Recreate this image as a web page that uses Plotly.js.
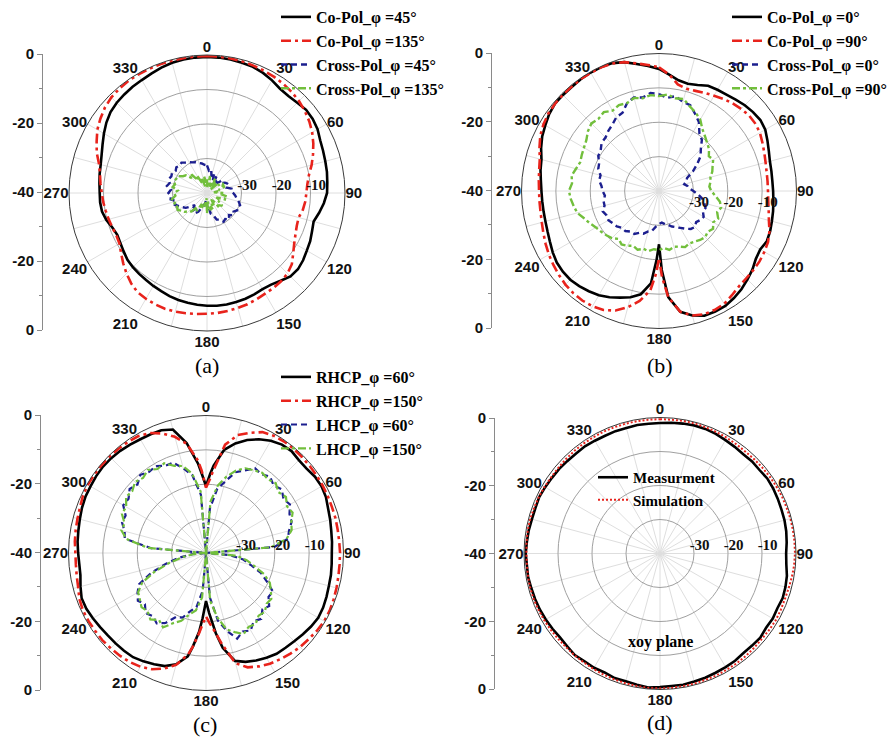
<!DOCTYPE html>
<html>
<head>
<meta charset="utf-8">
<script src="https://cdn.plot.ly/plotly-3.0.1.min.js"></script>
<style>html,body{margin:0;padding:0;background:#fff;}#chart{width:894px;height:739px;}</style>
</head>
<body>
<div id="chart"></div>
<script>
// ---------- angle grids ----------
const theta5 = [0,5,10,15,20,25,30,35,40,45,50,55,60,65,70,75,80,85,90,95,100,105,110,115,120,125,130,135,140,145,150,155,160,165,170,175,180,185,190,195,200,205,210,215,220,225,230,235,240,245,250,255,260,265,270,275,280,285,290,295,300,305,310,315,320,325,330,335,340,345,350,355,360];
const thetaB = [0,5,10,15,20,25,30,35,40,45,50,55,60,65,70,75,80,85,90,95,100,105,110,115,120,125,130,135,140,145,150,155,160,165,170,175,178,180,182,185,190,195,200,205,210,215,220,225,230,235,240,245,250,255,260,265,270,275,280,285,290,295,300,305,310,315,320,325,330,335,340,345,350,355,360];
const thetaC = [0,3,5,10,15,20,25,30,35,40,45,50,55,60,65,70,75,80,85,90,95,100,105,110,115,120,125,130,135,140,145,150,155,160,165,170,173,177,180,183,185,188,190,195,200,205,210,215,220,225,230,235,240,245,250,255,260,265,270,275,280,285,290,295,300,305,310,315,320,325,330,335,340,345,350,355,357,360];

// ---------- (a) ----------
const coPol45a = [-0.6,-0.6,-0.7,-0.9,-1.1,-1.6,-2.3,-3.1,-3.3,-3.0,-2.5,-2.6,-3.0,-3.8,-4.2,-4.5,-4.7,-5.0,-5.2,-6.0,-7.0,-8.0,-7.6,-7.0,-6.6,-6.0,-5.6,-5.8,-6.8,-7.6,-7.8,-7.6,-7.4,-7.3,-7.2,-7.2,-7.3,-7.5,-7.7,-7.9,-8.2,-8.6,-8.9,-9.2,-9.4,-9.6,-9.9,-10.5,-11.0,-11.3,-10.8,-9.8,-9.1,-8.9,-8.9,-8.7,-8.4,-8.1,-7.5,-6.6,-5.5,-4.4,-3.5,-3.0,-2.7,-2.4,-2.2,-1.8,-1.3,-0.9,-0.7,-0.6,-0.6];
const coPol135a = [-0.3,-0.3,-0.4,-0.5,-0.7,-0.9,-1.1,-1.4,-1.8,-2.3,-3.0,-3.8,-4.8,-6.0,-7.3,-8.6,-10.0,-10.8,-11.2,-11.4,-11.8,-12.5,-12.3,-11.7,-10.8,-9.5,-7.9,-7.0,-6.6,-6.4,-6.3,-6.0,-5.7,-5.5,-5.3,-5.1,-5.0,-4.8,-4.6,-4.4,-4.3,-4.4,-4.6,-4.9,-5.8,-7.0,-8.3,-9.6,-10.7,-11.0,-10.8,-10.5,-10.2,-9.8,-9.5,-9.0,-8.5,-7.6,-6.0,-4.7,-3.3,-2.3,-1.4,-0.8,-0.5,-0.3,-0.3,-0.3,-0.3,-0.3,-0.3,-0.3,-0.3];
const crossPol45a = [-32,-33.5,-33,-35,-34,-36,-34.5,-37,-35,-36,-34.5,-35,-34,-33.5,-33.2,-34,-32.8,-33,-32.4,-31.8,-31.3,-30.5,-29.8,-30.3,-29.9,-30.6,-30,-31,-30,-30.8,-30.4,-31.5,-31.8,-33.5,-34,-36.5,-36,-38,-37,-36,-35.3,-34,-33.3,-34.5,-33,-35,-34,-32.5,-31.8,-31,-30.1,-30.8,-29.3,-29.5,-28.8,-29.5,-28.2,-28.8,-28.2,-28.6,-28.3,-28.9,-28.4,-28.8,-28.5,-29.2,-29.7,-30.2,-30.5,-31,-31.3,-31.8,-32];
const crossPol135a = [-36,-38.5,-35,-37.5,-36.5,-38,-35,-37,-36,-38.5,-35.5,-36,-34.5,-35,-34.5,-36.5,-36,-38,-35,-36,-34,-34.5,-34.5,-37,-35.5,-36,-34.2,-35,-35,-38,-36,-37,-35,-36,-34.5,-37.5,-34,-38.5,-36,-37,-35,-36.5,-34,-35,-33,-32.5,-31.5,-31,-30.2,-30.5,-29.8,-30.5,-29.7,-30.8,-30.5,-31.5,-29.9,-30.4,-29.8,-30.2,-30.2,-31.5,-32,-34,-33,-35.5,-34,-37,-35.5,-38,-35,-37,-36];

// ---------- (b) ----------
const coPol0b = [-4.5,-6,-7.3,-7.7,-7.2,-6.2,-6.0,-5.8,-5.3,-4.7,-4.3,-4.0,-4.3,-5.2,-6.0,-6.6,-6.8,-6.9,-6.8,-6.6,-6.3,-6.0,-5.6,-5.4,-6.0,-5.6,-4.5,-3.6,-2.7,-2.0,-1.4,-1.3,-1.4,-2.5,-4.3,-9,-17,-24.5,-20,-13,-9.5,-8,-7.0,-5.9,-5.0,-4.4,-3.9,-3.5,-3.5,-3.7,-4.3,-5.0,-5.5,-5.8,-5.9,-5.9,-5.8,-5.5,-5.0,-4.6,-3.5,-2.5,-1.8,-1.0,-0.5,-0.5,-0.5,-0.3,-0.2,-0.2,-0.4,-1.2,-2.5,-3.5,-4.5];
const coPol90b = [-4.0,-6.0,-8.5,-9.2,-9.0,-8.5,-8.0,-7.3,-6.7,-6.2,-5.8,-5.8,-6.1,-6.8,-7.4,-7.9,-8.2,-8.3,-8.3,-8.1,-7.6,-6.9,-5.8,-5.0,-4.6,-4.3,-4.2,-4.1,-3.8,-3.0,-2.1,-1.8,-1.8,-2.5,-4.3,-9,-15,-20.5,-16,-11,-7.5,-5.0,-3.0,-1.8,-1.3,-1.1,-1.2,-1.5,-2.0,-2.5,-3.0,-3.6,-4.2,-4.7,-5.0,-5.1,-5.1,-4.9,-4.6,-4.1,-3.0,-1.9,-1.2,-0.7,-0.5,-0.4,-0.4,-0.3,-0.3,-0.3,-0.5,-1.2,-2.3,-3.2,-4.0];
const crossPol0b = [-11.8,-12.8,-12.0,-13.2,-13.4,-15.2,-16.8,-19.5,-20.6,-22.8,-24.2,-26.5,-28.6,-31.0,-31.5,-32.4,-31.6,-31.2,-30.0,-28.6,-27.2,-26.4,-25.6,-25.9,-25.0,-25.3,-25.9,-25.2,-25.6,-26.6,-27.6,-28.4,-29.0,-29.8,-30.2,-30.8,-30.4,-29.6,-28.2,-27.8,-26.8,-26.6,-25.6,-25.6,-24.8,-24.8,-24.0,-23.6,-23.0,-23.2,-22.6,-23.6,-23.6,-24.2,-23.6,-23.2,-22.3,-22.4,-21.2,-20.8,-19.6,-19.3,-18.2,-18.0,-17.1,-16.4,-15.2,-14.9,-12.8,-11.8,-12.4,-11.4,-11.8];
const crossPol90b = [-12.4,-11.8,-12.6,-12.3,-13.8,-14.8,-16.0,-18.0,-19.2,-20.2,-21.0,-22.3,-21.8,-22.8,-23.5,-24.5,-24.8,-25.3,-24.8,-23.5,-22.0,-21.3,-22.0,-21.0,-21.8,-20.8,-21.5,-21.0,-21.4,-22.0,-22.4,-22.0,-22.8,-23.2,-22.6,-23.4,-22.8,-23.0,-22.2,-22.6,-21.8,-22.4,-21.6,-21.0,-21.8,-20.6,-20.0,-19.4,-18.8,-17.8,-16.8,-15.4,-14.8,-14.2,-13.8,-14.6,-14.2,-15.0,-15.6,-15.2,-14.8,-14.2,-13.0,-12.2,-12.6,-12.0,-13.0,-12.4,-12.8,-12.0,-12.6,-12.0,-12.4];

// ---------- (c) ----------
const rhcp60c = [-20.5,-17,-14.5,-9.5,-7,-5.0,-3.5,-2.3,-1.5,-1.3,-1.8,-1.8,-1.3,-1.2,-1.5,-2.2,-2.6,-3.0,-3.2,-3.4,-3.3,-3.1,-3.0,-2.7,-2.4,-2.3,-2.7,-3.2,-3.7,-4.0,-4.2,-4.8,-5.5,-6.3,-7.5,-12,-16.5,-22.5,-26,-21,-17,-12.5,-9.5,-6.5,-5.0,-4.3,-3.6,-3.0,-2.9,-2.8,-2.7,-2.4,-2.0,-1.6,-1.5,-2.2,-2.9,-3.0,-2.8,-2.5,-2.3,-2.0,-1.6,-1.3,-1.2,-1.0,-0.9,-1.0,-1.2,-1.5,-1.8,-1.9,-2.0,-2.8,-7.5,-14,-17,-20.5];
const rhcp150c = [-21,-18.5,-16,-8.0,-4.5,-2.8,-1.2,-0.6,-0.4,-0.4,-0.5,-0.6,-0.7,-0.8,-0.9,-1.0,-1.0,-1.1,-1.1,-1.0,-1.0,-0.9,-0.7,-0.5,-0.3,-0.3,-0.6,-1.0,-1.3,-1.8,-2.3,-2.8,-3.6,-4.6,-6.8,-13,-16.5,-19.5,-21.5,-19,-16.5,-12.5,-10,-6.3,-4.2,-2.7,-1.8,-1.3,-1.0,-0.8,-0.6,-0.6,-0.5,-0.5,-0.8,-1.5,-1.8,-2.0,-2.0,-1.7,-1.5,-1.3,-1.0,-0.5,-0.3,-0.3,-0.3,-0.3,-0.4,-0.5,-0.7,-1.5,-3.0,-5.0,-7.7,-13,-16,-21];
const lhcp60c = [-40,-27,-21,-18.5,-15,-13.5,-11.5,-12,-11,-12.2,-11.2,-12.5,-11.8,-13.2,-13.5,-15,-15.8,-20,-40,-33,-29,-26.5,-23,-20.5,-17.5,-17.8,-16,-16.8,-15,-15.8,-14,-14.8,-13.5,-16.5,-20,-27,-40,-29,-24,-22.5,-20,-19.5,-16.5,-15,-16,-15.2,-16.8,-15.8,-17,-18.5,-23,-28,-32,-36,-40,-24,-16,-15.5,-14,-14.2,-12.2,-12.5,-11,-11.8,-10.3,-11.2,-10.8,-12,-12,-14.5,-17,-23,-40];
const lhcp150c = [-40,-25,-20,-17,-14.5,-12.8,-12.2,-11.5,-12,-11.3,-12.5,-11.6,-12.8,-12.2,-13.6,-14.2,-16.2,-21,-40,-31,-28,-25.5,-22,-19.5,-18.2,-16.8,-17,-15.8,-16.2,-14.8,-15.2,-14,-15.5,-17,-21,-26,-40,-27,-23,-21.5,-19,-17.5,-15,-16.2,-14.8,-16,-15.5,-16.5,-17.2,-19.5,-24,-29,-33,-36.5,-40,-23,-16.5,-14.5,-14.8,-13,-13.2,-11.6,-12,-10.8,-11.5,-10.5,-11.8,-11.2,-13,-13.8,-16.5,-22,-40];

// ---------- (d) ----------
const measD = [-1.6,-1.4,-1.2,-1.0,-1.0,-1.2,-1.5,-1.7,-1.9,-1.7,-1.8,-1.5,-1.6,-1.8,-2.0,-2.1,-2.3,-2.6,-2.9,-2.7,-2.1,-1.8,-1.6,-1.9,-1.7,-1.9,-1.5,-1.7,-1.8,-1.5,-1.4,-1.3,-1.1,-1.0,-0.8,-0.9,-0.7,-0.4,-0.8,-1.1,-1.0,-1.4,-1.2,-1.3,-1.0,-1.4,-1.6,-1.4,-1.2,-1.0,-0.9,-0.8,-0.6,-0.7,-0.5,-0.7,-0.8,-1.0,-1.0,-0.8,-1.0,-1.2,-1.3,-1.5,-1.6,-1.5,-1.7,-1.8,-1.7,-1.8,-1.6,-1.7,-1.6];
const simD = [-0.5,-0.5,-0.4,-0.4,-0.5,-0.6,-0.7,-0.8,-0.9,-0.8,-0.7,-0.6,-0.5,-0.4,-0.4,-0.3,-0.3,-0.3,-0.3,-0.4,-0.6,-0.8,-0.9,-0.8,-0.7,-0.8,-0.9,-0.8,-0.7,-0.6,-0.6,-0.5,-0.5,-0.4,-0.4,-0.3,-0.3,-0.3,-0.4,-0.5,-0.6,-0.7,-0.8,-0.9,-0.9,-1.0,-0.9,-0.8,-0.7,-0.6,-0.5,-0.5,-0.6,-0.7,-0.7,-0.6,-0.5,-0.5,-0.6,-0.7,-0.8,-0.9,-0.9,-0.8,-0.7,-0.6,-0.6,-0.5,-0.5,-0.5,-0.5,-0.5,-0.5];

// ---------- ticks / labels ----------
const spokeVals = [0,15,30,45,60,75,90,105,120,135,150,165,180,195,210,225,240,255,270,285,300,315,330,345];
const angTickVals = [0,30,60,90,120,150,180,210,240,270,300,330];
const angTickText = ['0','30','60','90','120','150','180','210','240','270','300','330'];
const radialTickVals = [-30,-20,-10];
const radialTickText = ['-30','-20','-10'];
const leftTickVals = [0,20,40,60,80];
const leftTickText = ['0','-20','-40','-20','0'];
const leftMinorVals = [10,30,50,70];
const panelLabels = ['(a)','(b)','(c)','(d)'];

// ---------- styles ----------
const W = 894, H = 739;
const BLACK = '#000000', RED = '#e8231c', BLUE = '#1c1f8f', GREEN = '#72bf3c';
const SANS = 'Liberation Sans, Arial, sans-serif';
const SERIF = 'Liberation Serif, Times New Roman, serif';
const NB = '\u00a0\u00a0\u00a0';

function line(theta, r, name, color, dash, width, subplot, legend) {
  return {type:'scatterpolar', mode:'lines', theta:theta, r:r, name:name,
    line:{color:color, dash:dash, width:width}, subplot:subplot, legend:legend,
    hoverinfo:'skip', cliponaxis:true};
}
const DASHDOT = '10px,4px,3px,4px';
const DASH = '6px,4px';
const GDASHDOT = '8px,3px,3px,3px';

const data = [
  line(theta5, coPol45a, 'Co-Pol_φ =45°', BLACK, 'solid', 2.6, 'polar', 'legend'),
  line(theta5, coPol135a, 'Co-Pol_φ =135°', RED, DASHDOT, 2.6, 'polar', 'legend'),
  line(theta5, crossPol45a, 'Cross-Pol_φ =45°', BLUE, DASH, 2.4, 'polar', 'legend'),
  line(theta5, crossPol135a, 'Cross-Pol_φ =135°', GREEN, GDASHDOT, 2.4, 'polar', 'legend'),

  line(thetaB, coPol0b, 'Co-Pol_φ =0°', BLACK, 'solid', 2.6, 'polar2', 'legend2'),
  line(thetaB, coPol90b, 'Co-Pol_φ =90°', RED, DASHDOT, 2.6, 'polar2', 'legend2'),
  line(theta5, crossPol0b, 'Cross-Pol_φ =0°', BLUE, DASH, 2.4, 'polar2', 'legend2'),
  line(theta5, crossPol90b, 'Cross-Pol_φ =90°', GREEN, GDASHDOT, 2.4, 'polar2', 'legend2'),

  line(thetaC, rhcp60c, 'RHCP_φ =60°', BLACK, 'solid', 2.6, 'polar3', 'legend3'),
  line(thetaC, rhcp150c, 'RHCP_φ =150°', RED, DASHDOT, 2.6, 'polar3', 'legend3'),
  line(theta5, lhcp60c, 'LHCP_φ =60°', BLUE, DASH, 2.2, 'polar3', 'legend3'),
  line(theta5, lhcp150c, 'LHCP_φ =150°', GREEN, GDASHDOT, 2.2, 'polar3', 'legend3'),

  line(theta5, measD, 'Measurment', BLACK, 'solid', 2.6, 'polar4', 'legend4'),
  line(theta5, simD, 'Simulation', RED, '2px,2px', 2, 'polar4', 'legend4')
];
// empty helper traces so that the label overlays and the left scales get drawn
['polar5','polar6','polar7','polar8'].forEach(function(s){
  data.push({type:'scatterpolar', mode:'lines', r:[null], theta:[null], subplot:s, showlegend:false, hoverinfo:'skip'});
});
[['x','y'],['x2','y2'],['x3','y3'],['x4','y4']].forEach(function(p){
  data.push({type:'scatter', mode:'lines', x:[null], y:[null], xaxis:p[0], yaxis:p[1], showlegend:false, hoverinfo:'skip'});
});

function dom(cx, cy, R) {
  return {x:[(cx-R)/W, (cx+R)/W], y:[1-(cy+R)/H, 1-(cy-R)/H]};
}
function polarGrid(cx, cy, R, side) {
  return {
    domain: dom(cx, cy, R), bgcolor:'rgba(0,0,0,0)',
    angularaxis:{rotation:90, direction:'clockwise', tickmode:'array', tickvals:spokeVals,
      showticklabels:false, showline:true, linecolor:'#3a3a3a', linewidth:1,
      showgrid:true, gridcolor:'#dedede', gridwidth:1, ticks:''},
    radialaxis:{range:[-40,0], autorange:false, tickmode:'array', tickvals:radialTickVals,
      ticktext:radialTickText.map(function(t){return NB + t;}), tickangle:0,
      angle:0, side:side, showline:false, ticks:'', showgrid:true, gridcolor:'#a0a0a0', gridwidth:1,
      tickfont:{family:SERIF, size:15, color:'#111', weight:'bold'}}
  };
}
function polarLabels(cx, cy, R) {
  return {
    domain: dom(cx, cy, R), bgcolor:'rgba(0,0,0,0)',
    angularaxis:{rotation:90, direction:'clockwise', tickmode:'array', tickvals:angTickVals, ticktext:angTickText,
      showline:false, showgrid:false, ticks:'',
      tickfont:{family:SANS, size:15, color:'#111', weight:'bold'}},
    radialaxis:{visible:false, range:[-40,0], autorange:false}
  };
}
function yAxisAt(yTop, yBot, xName) {
  return {
    domain:[1-yBot/H, 1-yTop/H], anchor:xName, range:[0,80], autorange:false, fixedrange:true,
    tickmode:'array', tickvals:leftTickVals, ticktext:leftTickText,
    showline:true, linecolor:'#8a8a8a', linewidth:1, ticks:'outside', ticklen:5, tickcolor:'#8a8a8a',
    showgrid:false, zeroline:false,
    minor:{tickmode:'array', tickvals:leftMinorVals, ticks:'outside', ticklen:3, tickcolor:'#8a8a8a', showgrid:false},
    tickfont:{family:SANS, size:15, color:'#111', weight:'bold'}
  };
}
function xAxisAt(x, yName) {
  return {domain:[x/W, (x+4)/W], anchor:yName, visible:false, range:[0,1], autorange:false, fixedrange:true};
}
function legendAt(x, yTop, size) {
  return {x:x/W, y:1-yTop/H, xanchor:'left', yanchor:'top', bgcolor:'rgba(0,0,0,0)', borderwidth:0,
    font:{family:SERIF, size:size, color:'#000', weight:'bold'}, traceorder:'normal'};
}
function label(text, x, y, size, bold) {
  return {text:text, x:x/W, y:1-y/H, xref:'paper', yref:'paper', showarrow:false, xanchor:'center', yanchor:'middle',
    font:{family:SERIF, size:size, color:'#000', weight: bold ? 'bold' : 'normal'}};
}

const A = [207, 193, 138], B = [659, 191, 137.5], C = [206, 553, 137.5], D = [660, 553.5, 136];

const layout = {
  width:W, height:H, margin:{l:0, r:0, t:0, b:0}, paper_bgcolor:'#fff', plot_bgcolor:'rgba(0,0,0,0)',
  showlegend:true,
  polar: polarGrid(A[0], A[1], A[2], 'counterclockwise'),
  polar2: polarGrid(B[0], B[1], B[2], 'clockwise'),
  polar3: polarGrid(C[0], C[1], C[2], 'counterclockwise'),
  polar4: polarGrid(D[0], D[1], D[2], 'counterclockwise'),
  polar5: polarLabels(A[0], A[1], A[2]),
  polar6: polarLabels(B[0], B[1], B[2]),
  polar7: polarLabels(C[0], C[1], C[2]),
  polar8: polarLabels(D[0], D[1], D[2]),
  xaxis: xAxisAt(43, 'y'), yaxis: yAxisAt(54, 330, 'x'),
  xaxis2: xAxisAt(492, 'y2'), yaxis2: yAxisAt(53, 328, 'x2'),
  xaxis3: xAxisAt(41, 'y3'), yaxis3: yAxisAt(415, 690, 'x3'),
  xaxis4: xAxisAt(495, 'y4'), yaxis4: yAxisAt(418, 689, 'x4'),
  legend: legendAt(276, 0, 16),
  legend2: legendAt(727, 0, 16),
  legend3: legendAt(276, 360, 16),
  legend4: legendAt(593, 461, 15),
  annotations: [
    label(panelLabels[0], 207, 365, 22, false),
    label(panelLabels[1], 660, 365, 22, false),
    label(panelLabels[2], 205, 724, 22, false),
    label(panelLabels[3], 660, 722, 22, false),
    label('xoy plane', 660, 642, 16, true)
  ]
};

Plotly.newPlot('chart', data, layout, {staticPlot:true, displayModeBar:false});
</script>
</body>
</html>
